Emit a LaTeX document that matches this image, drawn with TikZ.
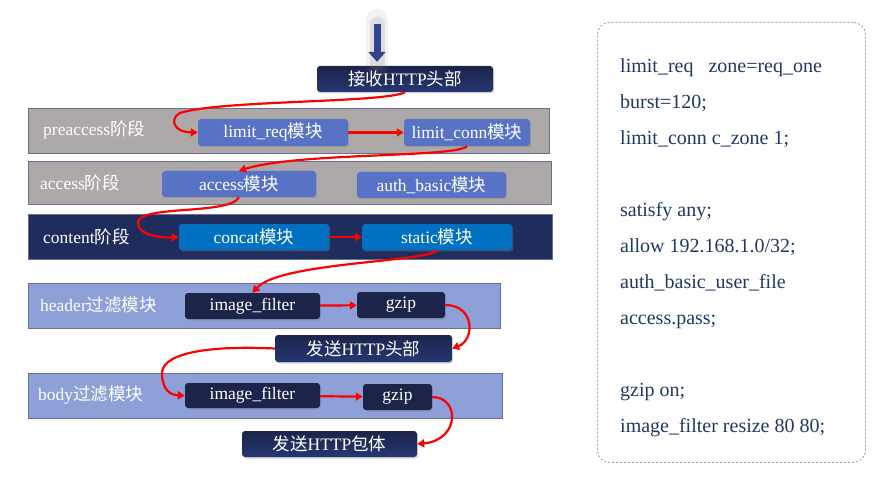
\documentclass[tikz,border=0pt]{standalone}
\usepackage{fontspec}
\setmainfont{Liberation Serif}
\newfontfamily\zhfont{Noto Sans CJK SC}
\newcommand\zh[1]{{\zhfont#1}}
\usetikzlibrary{
  arrows.meta,
  shadows,
}
\definecolor{bandgray}{HTML}{ADA9A8}
\definecolor{bandedge}{HTML}{6A7190}
\definecolor{navyband}{HTML}{1F2D5E}
\definecolor{lavband}{HTML}{8EA0D8}
\definecolor{modblue}{HTML}{5873C6}
\definecolor{modcyan}{HTML}{0070C0}
\definecolor{moddark}{HTML}{1C2449}
\definecolor{codeblue}{HTML}{203864}
\definecolor{dashgray}{HTML}{9AA2B8}
\definecolor{feedblue}{HTML}{2F4590}

\begin{document}
\begin{tikzpicture}[
  x=1pt, y=-1pt,
  font=\fontsize{17.5}{20}\selectfont,
  band/.style={
     draw=bandedge,
     line width=1.2pt,
     anchor=north west,
     minimum height=45pt,
     inner sep=0pt,
  },
  phase/.style={anchor=west, inner sep=0pt, text=white},
  module/.style={
     rounded corners=3pt,
     text=white,
     minimum height=26pt,
     inner sep=0pt,
     drop shadow={shadow xshift=1.2pt, shadow yshift=-1.5pt, opacity=0.35},
  },
  sendbox/.style={module, top color=moddark, bottom color=feedblue!80!black},
  flow/.style={draw=red, line width=2.2pt, -{Triangle[length=7pt,width=8pt]}},
]
   \useasboundingbox (0,0) rectangle (883,481);

   \node[band, fill=bandgray, minimum width=521pt] (preband) at (28,108) {};
   \node[band, fill=bandgray, minimum width=523pt, minimum height=43pt] (accband) at (28,161) {};
   \node[band, fill=navyband, minimum width=524pt] (conband) at (28,214) {};
   \node[band, fill=lavband, minimum width=472pt] (hdrband) at (28,283) {};
   \node[band, fill=lavband, minimum width=474pt] (bodyband) at (28,373) {};

   \node[phase] (prelabel) at (43,130) {preaccess\zh{阶段}};
   \node[phase] (acclabel) at (40,183) {access\zh{阶段}};
   \node[phase] (conlabel) at (43,237) {content\zh{阶段}};
   \node[phase] (hdrlabel) at (40,305) {header\zh{过滤模块}};
   \node[phase] (bodylabel) at (38,395) {body\zh{过滤模块}};

   \node[sendbox, minimum width=176pt] (rcvhdr) at (405,79) {\zh{接收}HTTP\zh{头部}};
   \node[module, fill=modblue, minimum width=150pt, minimum height=27pt] (limreq) at (273,132.5) {limit\_req\zh{模块}};
   \node[module, fill=modblue, minimum width=126pt, minimum height=27pt] (limconn) at (467,132.5) {limit\_conn\zh{模块}};
   \node[module, fill=modblue, minimum width=154pt] (accmod) at (239,184) {access\zh{模块}};
   \node[module, fill=modblue, minimum width=149pt] (authmod) at (431.5,185) {auth\_basic\zh{模块}};
   \node[module, fill=modcyan, minimum width=150pt] (concat) at (254,237) {concat\zh{模块}};
   \node[module, fill=modcyan, minimum width=150pt] (static) at (437,237) {static\zh{模块}};
   \node[module, fill=moddark, minimum width=135pt] (imgfa) at (252.5,306) {image\_filter};
   \node[module, fill=moddark, minimum width=88pt] (gzipa) at (401,305) {gzip};
   \node[sendbox, minimum width=177pt, minimum height=27pt] (sendhdr) at (363.5,348.5) {\zh{发送}HTTP\zh{头部}};
   \node[module, fill=moddark, minimum width=135pt, minimum height=25pt] (imgfb) at (252.5,395.5) {image\_filter};
   \node[module, fill=moddark, minimum width=69pt] (gzipb) at (397.5,397) {gzip};
   \node[sendbox, minimum width=175pt] (sendbody) at (329.5,444) {\zh{发送}HTTP\zh{包体}};

   \coordinate (feed) at (377,24);
   \draw[line width=22pt, gray, opacity=0.1, line cap=round] ([yshift=4pt]feed) -- ([yshift=-1pt]feed |- rcvhdr.north);
   \draw[line width=15pt, gray, opacity=0.18, line cap=round] (feed) -- ([yshift=3pt]feed |- rcvhdr.north);
   \draw[line width=7pt, feedblue, shorten >=4pt, -{Triangle[length=10pt,width=17pt]}] (feed) -- (feed |- rcvhdr.north);

   \draw[flow] (rcvhdr.south) .. controls (385,103) and (220,100) .. (180,113)
      .. controls (170,118) and (172,132) .. (limreq.west);
   \draw[flow] (limreq) -- (limconn);
   \draw[flow] (limconn.south) .. controls (455,158) and (300,152) .. (accmod.north);
   \draw[flow] (accmod.south) .. controls (230,215) and (140,205) .. (138,222)
      .. controls (137,235) and (160,238) .. (concat.west);
   \draw[flow] (concat) -- (static);
   \draw[flow] (static.south) .. controls (430,262) and (280,262) .. (imgfa.north);
   \draw[flow] (imgfa) -- (gzipa);
   \draw[flow] (gzipa.east) .. controls (475,305) and (475,340) .. (sendhdr.east);
   \draw[flow] (sendhdr.west) .. controls (200,345) and (160,355) .. (162,375)
      .. controls (163,390) and (170,395) .. (imgfb.west);
   \draw[flow] (imgfb) -- (gzipb);
   \draw[flow] (gzipb.east) .. controls (460,397) and (460,440) .. (sendbody.east);

   \node[draw=dashgray, dashed, dash pattern=on 2pt off 2pt, line width=0.9pt, rounded corners=12pt,
         anchor=north west, minimum width=268pt, minimum height=440pt] (codebox) at (597,22) {};
   \node[anchor=base west, inner sep=0pt, align=left, text=codeblue,
         font=\fontsize{20}{36}\selectfont] (config) at (620,432)
      {limit\_req\hspace{15pt}zone=req\_one\\
       burst=120;\\
       limit\_conn c\_zone 1;\\
       \mbox{}\\
       satisfy any;\\
       allow 192.168.1.0/32;\\
       auth\_basic\_user\_file\\
       access.pass;\\
       \mbox{}\\
       gzip on;\\
       image\_filter resize 80 80;};
\end{tikzpicture}
\end{document}
